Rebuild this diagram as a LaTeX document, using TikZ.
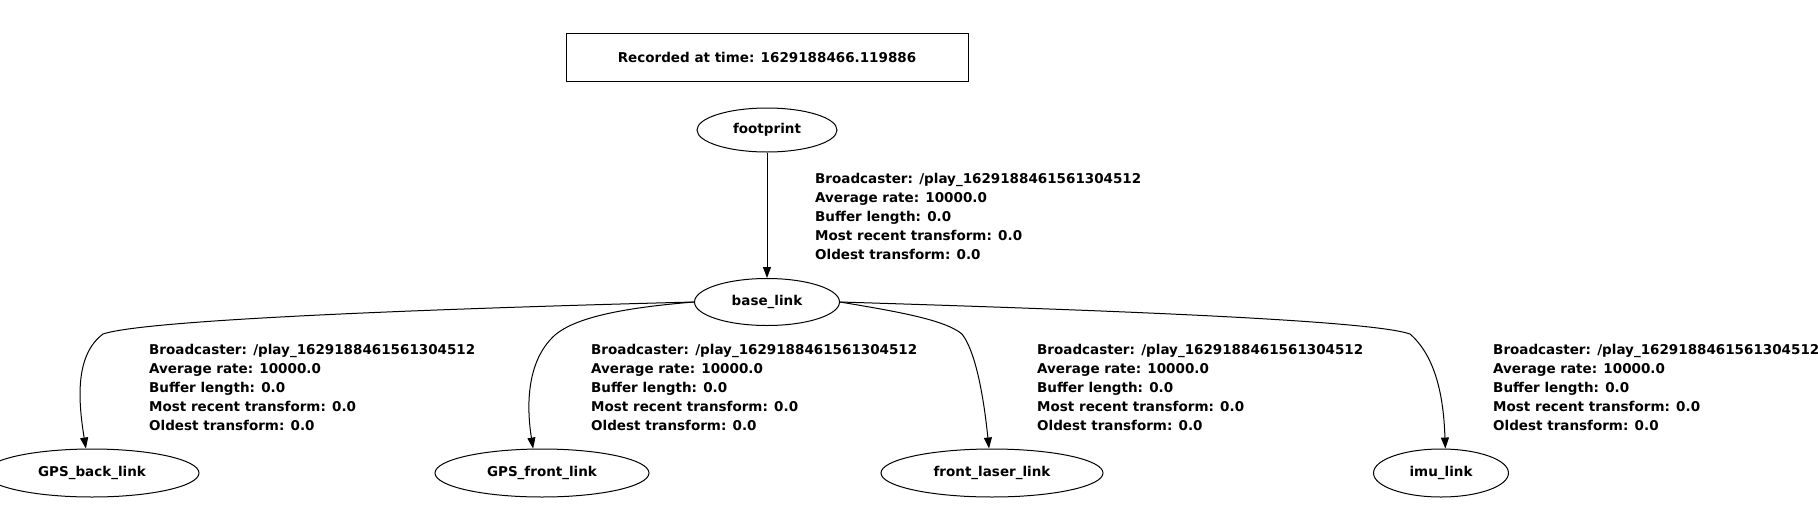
\documentclass[tikz,border=0pt]{standalone}
\usepackage{fontspec}
\setmainfont{DejaVu Sans}
\usetikzlibrary{shapes.geometric,arrows.meta}
\tikzset{
  frame/.style={draw, line width=1pt, inner sep=0pt, minimum width=402pt, minimum height=48pt},
  tfnode/.style={draw, ellipse, line width=1pt, inner sep=0pt},
  txt/.style={font=\bfseries\fontsize{13.5}{19}\selectfont},
  edgelabel/.style={txt, anchor=north west, inner sep=0pt, align=left},
  conn/.style={line width=1pt, -{Triangle[length=11pt,width=8pt]}},
}
\begin{document}
\begin{tikzpicture}[x=1pt,y=-1pt]
\useasboundingbox (0,0) rectangle (1818,517);
\node[frame, txt] (rec) at (767,57) {Recorded at time: 1629188466.119886};
\node[tfnode, txt, minimum width=140pt, minimum height=44pt] (footprint) at (767,130) {footprint};
\node[tfnode, txt, minimum width=145pt, minimum height=47pt] (base) at (767,302) {base\_link};
\node[tfnode, txt, minimum width=214pt, minimum height=48pt] (gpsback) at (92,473) {GPS\_back\_link};
\node[tfnode, txt, minimum width=214pt, minimum height=48pt] (gpsfront) at (542,473) {GPS\_front\_link};
\node[tfnode, txt, minimum width=222pt, minimum height=48pt] (laser) at (992,473) {front\_laser\_link};
\node[tfnode, txt, minimum width=135pt, minimum height=48pt] (imu) at (1441,473) {imu\_link};

\draw[conn] (footprint) -- (base);
\draw[conn] (base.west) .. controls (500,307) and (150,318) .. (103,334)
  .. controls (75,355) and (78,400) .. (gpsback.104);
\draw[conn] (base.west) .. controls (620,308) and (575,318) .. (555,335)
  .. controls (525,362) and (527,410) .. (gpsfront.110);
\draw[conn] (base.east) .. controls (900,312) and (945,320) .. (962,334)
  .. controls (978,355) and (985,410) .. (laser.97);
\draw[conn] (base.east) .. controls (1100,310) and (1370,320) .. (1410,334)
  .. controls (1440,360) and (1444,410) .. (imu.80);

\node[edgelabel] (l1) at (815,173) {Broadcaster: /play\_1629188461561304512\\Average rate: 10000.0\\Buffer length: 0.0\\Most recent transform: 0.0\\Oldest transform: 0.0};
\node[edgelabel] (l2) at (149,344) {Broadcaster: /play\_1629188461561304512\\Average rate: 10000.0\\Buffer length: 0.0\\Most recent transform: 0.0\\Oldest transform: 0.0};
\node[edgelabel] (l3) at (591,344) {Broadcaster: /play\_1629188461561304512\\Average rate: 10000.0\\Buffer length: 0.0\\Most recent transform: 0.0\\Oldest transform: 0.0};
\node[edgelabel] (l4) at (1037,344) {Broadcaster: /play\_1629188461561304512\\Average rate: 10000.0\\Buffer length: 0.0\\Most recent transform: 0.0\\Oldest transform: 0.0};
\node[edgelabel] (l5) at (1493,344) {Broadcaster: /play\_1629188461561304512\\Average rate: 10000.0\\Buffer length: 0.0\\Most recent transform: 0.0\\Oldest transform: 0.0};
\end{tikzpicture}
\end{document}
